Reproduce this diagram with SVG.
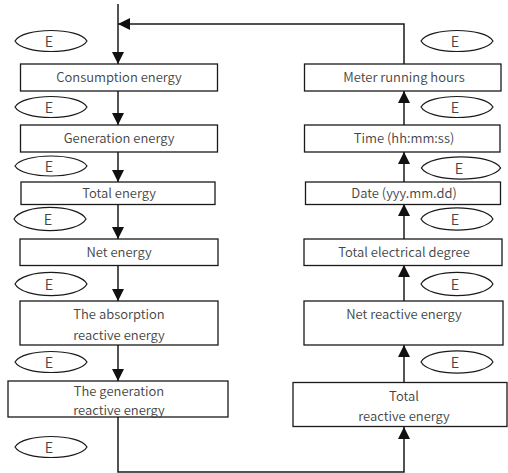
<svg xmlns="http://www.w3.org/2000/svg" width="508" height="473" viewBox="0 0 508 473">
  <style>
    .box { fill: #ffffff; stroke: #1a1a1a; stroke-width: 1.3; }
    .key { fill: #ffffff; stroke: #1a1a1a; stroke-width: 1.2; }
    .lbl { font-family: "Noto Sans CJK SC", "Noto Sans", sans-serif; font-size: 13px; font-weight: 350; fill: #444444; text-anchor: middle; }
    .ek { font-family: "Noto Sans CJK SC", "Noto Sans", sans-serif; font-size: 14.5px; font-weight: 350; fill: #444444; text-anchor: middle; }
    .wire { fill: none; stroke: #1a1a1a; stroke-width: 1.5; }
  </style>
  <defs>
    <marker id="arrow" viewBox="0 0 12 12" refX="12" refY="6" markerWidth="12" markerHeight="12" markerUnits="userSpaceOnUse" orient="auto">
      <path d="M0,0 L12,6 L0,12 Z" fill="#111"/>
    </marker>
    <!-- lens-shaped key outline centred on the origin -->
    <path id="lens" d="M-36,0 C-28,-14 28,-14 36,0 C28,14 -28,14 -36,0 Z"/>
  </defs>

  <!-- connectors -->
  <g id="connectors">
    <line class="wire" x1="118" y1="4" x2="118" y2="64" marker-end="url(#arrow)"/>
    <polyline class="wire" points="404,64 404,24 118,24" marker-end="url(#arrow)"/>
    <line class="wire" x1="118" y1="91" x2="118" y2="125" marker-end="url(#arrow)"/>
    <line class="wire" x1="118" y1="152" x2="118" y2="182" marker-end="url(#arrow)"/>
    <line class="wire" x1="118" y1="204" x2="118" y2="239" marker-end="url(#arrow)"/>
    <line class="wire" x1="118" y1="265" x2="118" y2="301" marker-end="url(#arrow)"/>
    <line class="wire" x1="118" y1="345" x2="118" y2="381" marker-end="url(#arrow)"/>
    <polyline class="wire" points="118,417 118,472 404,472 404,427" marker-end="url(#arrow)"/>
    <line class="wire" x1="404" y1="382" x2="404" y2="345" marker-end="url(#arrow)"/>
    <line class="wire" x1="404" y1="301" x2="404" y2="265" marker-end="url(#arrow)"/>
    <line class="wire" x1="404" y1="239" x2="404" y2="204" marker-end="url(#arrow)"/>
    <line class="wire" x1="404" y1="182" x2="404" y2="152" marker-end="url(#arrow)"/>
    <line class="wire" x1="404" y1="125" x2="404" y2="91" marker-end="url(#arrow)"/>
  </g>

  <!-- left column -->
  <g id="consumption-energy">
    <rect class="box" x="20.5" y="64" width="197" height="27"/>
    <text class="lbl" x="119" y="82">Consumption energy</text>
  </g>
  <g id="generation-energy">
    <rect class="box" x="20.5" y="125" width="197" height="27"/>
    <text class="lbl" x="119" y="143">Generation energy</text>
  </g>
  <g id="total-energy">
    <rect class="box" x="21" y="182" width="194" height="22.5"/>
    <text class="lbl" x="119" y="198">Total energy</text>
  </g>
  <g id="net-energy">
    <rect class="box" x="20" y="239" width="198" height="26.5"/>
    <text class="lbl" x="119" y="256.5">Net energy</text>
  </g>
  <g id="absorption-reactive">
    <rect class="box" x="20" y="301" width="198" height="44"/>
    <text class="lbl" x="119" y="318.5">The absorption</text>
    <text class="lbl" x="119" y="340">reactive energy</text>
  </g>
  <g id="generation-reactive">
    <rect class="box" x="8" y="381" width="220" height="36"/>
    <text class="lbl" x="119" y="395.5">The generation</text>
    <text class="lbl" x="119" y="415">reactive energy</text>
  </g>

  <!-- right column -->
  <g id="meter-running-hours">
    <rect class="box" x="304.5" y="64" width="196.5" height="27"/>
    <text class="lbl" x="404" y="82">Meter running hours</text>
  </g>
  <g id="time">
    <rect class="box" x="304.5" y="125" width="195.5" height="27"/>
    <text class="lbl" x="404" y="143">Time (hh:mm:ss)</text>
  </g>
  <g id="date">
    <rect class="box" x="305.5" y="182" width="195" height="22.5"/>
    <text class="lbl" x="404" y="198">Date (yyy.mm.dd)</text>
  </g>
  <g id="total-electrical-degree">
    <rect class="box" x="304" y="239" width="198" height="26.5"/>
    <text class="lbl" x="404" y="256.5">Total electrical degree</text>
  </g>
  <g id="net-reactive-energy">
    <rect class="box" x="304" y="301" width="199" height="44"/>
    <text class="lbl" x="404" y="319">Net reactive energy</text>
  </g>
  <g id="total-reactive-energy">
    <rect class="box" x="293" y="382.5" width="214" height="44"/>
    <text class="lbl" x="404" y="400.5">Total</text>
    <text class="lbl" x="404" y="421">reactive energy</text>
  </g>

  <!-- key ellipses -->
  <g id="key-left-1"><use href="#lens" class="key" transform="translate(51,41)"/><text class="ek" x="49" y="46.5">E</text></g>
  <g id="key-left-2"><use href="#lens" class="key" transform="translate(51,107)"/><text class="ek" x="49" y="112.5">E</text></g>
  <g id="key-left-3"><use href="#lens" class="key" transform="translate(51,166) scale(1,0.95)"/><text class="ek" x="49" y="171.5">E</text></g>
  <g id="key-left-4"><use href="#lens" class="key" transform="translate(50,219) scale(1,1.1)"/><text class="ek" x="48" y="224.5">E</text></g>
  <g id="key-left-5"><use href="#lens" class="key" transform="translate(51,284) scale(1,1.1)"/><text class="ek" x="49" y="289.5">E</text></g>
  <g id="key-left-6"><use href="#lens" class="key" transform="translate(51,362)"/><text class="ek" x="49" y="367.5">E</text></g>
  <g id="key-left-7"><use href="#lens" class="key" transform="translate(51,447)"/><text class="ek" x="49" y="452.5">E</text></g>

  <g id="key-right-1"><use href="#lens" class="key" transform="translate(457,41)"/><text class="ek" x="455" y="46.5">E</text></g>
  <g id="key-right-2"><use href="#lens" class="key" transform="translate(457,107)"/><text class="ek" x="455" y="112.5">E</text></g>
  <g id="key-right-3"><use href="#lens" class="key" transform="translate(461,168) scale(1.1,1.05)"/><text class="ek" x="459" y="173.5">E</text></g>
  <g id="key-right-4"><use href="#lens" class="key" transform="translate(457,219) scale(1,1.05)"/><text class="ek" x="455" y="224.5">E</text></g>
  <g id="key-right-5"><use href="#lens" class="key" transform="translate(457,284) scale(1,1.1)"/><text class="ek" x="455" y="289.5">E</text></g>
  <g id="key-right-6"><use href="#lens" class="key" transform="translate(457,362) scale(1,1.05)"/><text class="ek" x="455" y="367.5">E</text></g>
</svg>
